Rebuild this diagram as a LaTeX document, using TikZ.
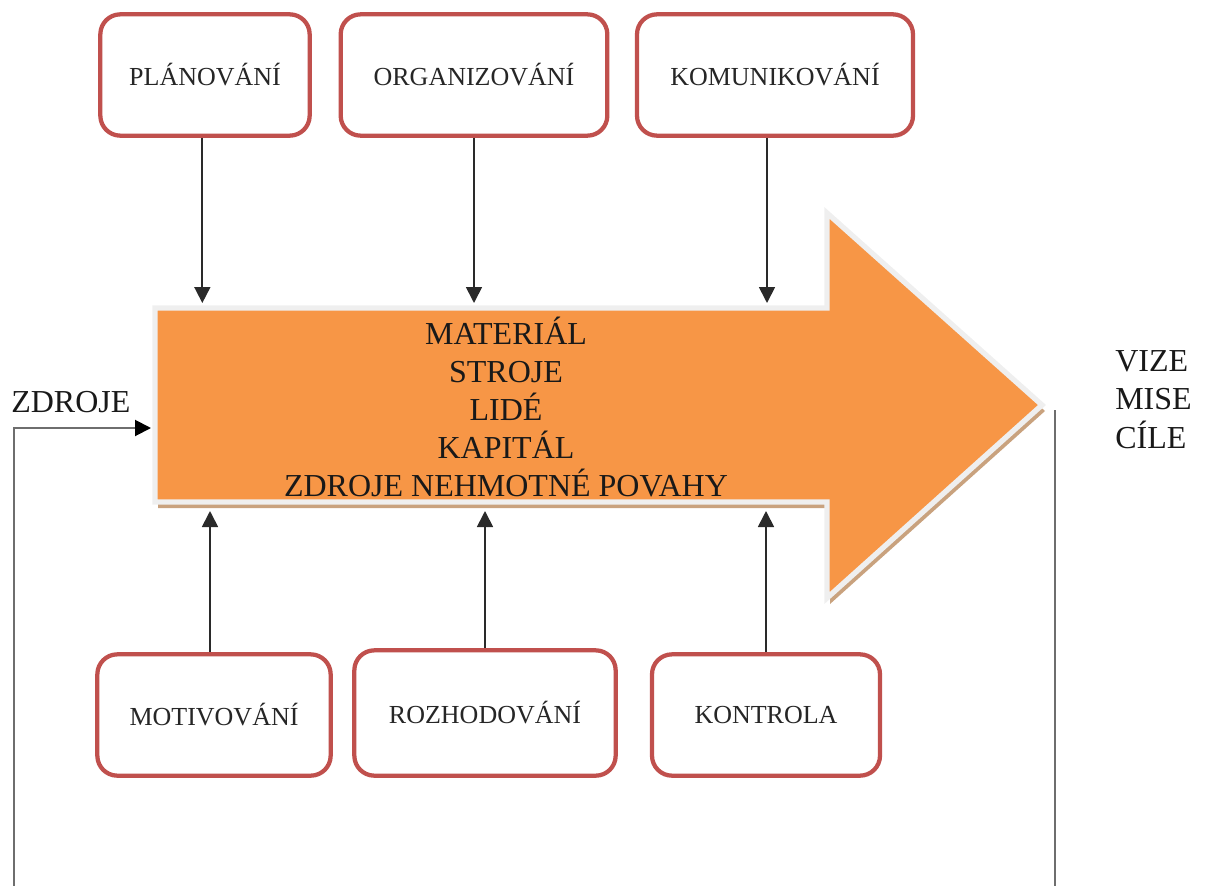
\documentclass[tikz,border=0pt]{standalone}
\usepackage{fontspec}
\setmainfont{Liberation Serif}
\usetikzlibrary{arrows.meta}
\definecolor{arroworange}{HTML}{F79646}
\definecolor{arrowshade}{HTML}{C9A27E}
\definecolor{arrowrim}{HTML}{EFEFEF}
\definecolor{boxred}{HTML}{C0504D}
\definecolor{linkgray}{HTML}{2A2A2A}
\definecolor{loopgray}{HTML}{6E6E6E}
\begin{document}
\begin{tikzpicture}[x=0.75pt,y=-0.75pt,
  taskbox/.style={draw=boxred, line width=3.2pt, rounded corners=15pt,
    fill=white, text=black!85, font=\fontsize{19.5}{22}\selectfont,
    inner sep=0pt},
  link/.style={draw=linkgray, line width=1.3pt,
    -{Triangle[length=12pt,width=12pt]}},
  loopline/.style={draw=loopgray, line width=1.5pt,
    -{Triangle[length=12pt,width=12pt,color=black]}},
  biglabel/.style={inner sep=0pt, text=black!90,
    font=\fontsize{24}{28.5}\selectfont}
]
\useasboundingbox (0,0) rectangle (1205,885);

% big process arrow: shadow, then the arrow with its pale rim
\begin{scope}[shift={(3,6)}]
  \fill[arrowshade] (155,308) -- (827,308) -- (827,213) -- (1042,405)
    -- (827,598) -- (827,502) -- (155,502) -- cycle;
\end{scope}
\filldraw[fill=arroworange, draw=arrowrim, line width=4pt, miter limit=10]
  (155,308) -- (827,308) -- (827,213) -- (1042,405)
  -- (827,598) -- (827,502) -- (155,502) -- cycle;

\coordinate (arrowTop) at (0,303);
\coordinate (arrowBot) at (0,511);
\coordinate (arrowIn) at (151,428);
\coordinate (tipOut) at (1055,410);
\coordinate (loopR) at (1055,900);
\coordinate (loopL) at (14,900);
\coordinate (loopUp) at (14,428);

% resources carried by the arrow
\node[biglabel, align=center] (res) at (506,407)
  {MATERIÁL\\STROJE\\LIDÉ\\KAPITÁL\\ZDROJE NEHMOTNÉ POVAHY};
\node[biglabel, anchor=base west] (zdroje) at (11,412) {ZDROJE};
\node[biglabel, anchor=north west, align=left,
  font=\fontsize{24}{29}\selectfont] (goals) at (1115,350)
  {VIZE\\MISE\\CÍLE};

% management functions
\node[taskbox, minimum width=157pt, minimum height=91pt] (plan) at (205,75) {PLÁNOVÁNÍ};
\node[taskbox, minimum width=200pt, minimum height=91pt] (org) at (474,75) {ORGANIZOVÁNÍ};
\node[taskbox, minimum width=207pt, minimum height=91pt] (kom) at (775,75) {KOMUNIKOVÁNÍ};
\node[taskbox, minimum width=175pt, minimum height=91pt] (mot) at (214,715) {MOTIVOVÁNÍ};
\node[taskbox, minimum width=196pt, minimum height=94pt] (roz) at (485,713) {ROZHODOVÁNÍ};
\node[taskbox, minimum width=171pt, minimum height=91pt] (kon) at (766,715) {KONTROLA};

% links into the arrow
\draw[link] ([xshift=-2pt]plan.south) -- ([xshift=-2pt]plan.south |- arrowTop);
\draw[link] (org.south) -- (org.south |- arrowTop);
\draw[link] ([xshift=-6pt]kom.south) -- ([xshift=-6pt]kom.south |- arrowTop);
\draw[link] ([xshift=-3pt]mot.north) -- ([xshift=-3pt]mot.north |- arrowBot);
\draw[link] (roz.north) -- (roz.north |- arrowBot);
\draw[link] (kon.north) -- (kon.north |- arrowBot);

% feedback loop from the goals back to the resources
\draw[loopline] (tipOut) -- (loopR) -- (loopL) -- (loopUp) -- (arrowIn);

\end{tikzpicture}
\end{document}
